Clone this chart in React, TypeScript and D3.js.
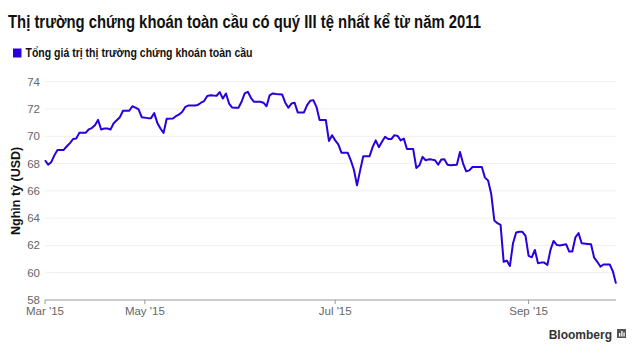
import React from "react";
import * as d3 from "d3";

const TITLE = "Thị trường chứng khoán toàn cầu có quý III tệ nhất kể từ năm 2011";
const LEGEND = "Tổng giá trị thị trường chứng khoán toàn cầu";
const Y_LABEL = "Nghìn tỷ (USD)";
const SOURCE = "Bloomberg";

const dates = [
  "2015-03-30","2015-03-31","2015-04-01","2015-04-02","2015-04-03","2015-04-05","2015-04-06","2015-04-07","2015-04-08","2015-04-09",
  "2015-04-10","2015-04-12","2015-04-13","2015-04-14","2015-04-15","2015-04-16","2015-04-17","2015-04-18","2015-04-19","2015-04-20",
  "2015-04-21","2015-04-23","2015-04-24","2015-04-26","2015-04-27","2015-04-28","2015-04-29","2015-04-30","2015-05-02","2015-05-03",
  "2015-05-04","2015-05-05","2015-05-06","2015-05-07","2015-05-08","2015-05-10","2015-05-11","2015-05-12","2015-05-13","2015-05-14",
  "2015-05-15","2015-05-17","2015-05-18","2015-05-19","2015-05-20","2015-05-21","2015-05-22","2015-05-23","2015-05-24","2015-05-25",
  "2015-05-26","2015-05-27","2015-05-28","2015-05-29","2015-05-30","2015-05-31","2015-06-01","2015-06-02","2015-06-03","2015-06-04",
  "2015-06-05","2015-06-07","2015-06-08","2015-06-09","2015-06-10","2015-06-11","2015-06-12","2015-06-14","2015-06-15","2015-06-16",
  "2015-06-17","2015-06-18","2015-06-19","2015-06-21","2015-06-22","2015-06-23","2015-06-24","2015-06-25","2015-06-26","2015-06-28",
  "2015-06-29","2015-06-30","2015-07-01","2015-07-02","2015-07-03","2015-07-05","2015-07-06","2015-07-07","2015-07-08","2015-07-09",
  "2015-07-10","2015-07-12","2015-07-13","2015-07-14","2015-07-15","2015-07-16","2015-07-17","2015-07-18","2015-07-19","2015-07-20",
  "2015-07-21","2015-07-22","2015-07-23","2015-07-24","2015-07-26","2015-07-27","2015-07-28","2015-07-29","2015-07-30","2015-07-31",
  "2015-08-01","2015-08-02","2015-08-03","2015-08-04","2015-08-05","2015-08-06","2015-08-07","2015-08-09","2015-08-10","2015-08-11",
  "2015-08-12","2015-08-13","2015-08-14","2015-08-17","2015-08-18","2015-08-19","2015-08-20","2015-08-21","2015-08-22","2015-08-23",
  "2015-08-24","2015-08-25","2015-08-26","2015-08-27","2015-08-28","2015-08-29","2015-08-30","2015-08-31","2015-09-01","2015-09-02",
  "2015-09-03","2015-09-04","2015-09-05","2015-09-06","2015-09-07","2015-09-08","2015-09-09","2015-09-10","2015-09-11","2015-09-13",
  "2015-09-14","2015-09-15","2015-09-16","2015-09-17","2015-09-18","2015-09-20","2015-09-21","2015-09-22","2015-09-23","2015-09-24",
  "2015-09-25","2015-09-27","2015-09-28","2015-09-29"
];

const values = [
  68.24,67.92,68.1,68.6,69.0,69.0,69.27,69.5,69.8,69.83,
  70.25,70.25,70.5,70.6,70.8,71.2,70.5,70.57,70.57,70.5,
  70.95,71.4,71.87,71.87,72.2,72.1,71.97,71.4,71.33,71.33,
  71.7,70.98,70.57,70.25,71.28,71.3,71.48,71.6,71.8,72.16,
  72.26,72.26,72.3,72.46,72.58,72.95,73.0,72.98,72.97,73.24,
  72.77,73.14,72.4,72.1,72.09,72.09,72.53,73.14,73.26,72.82,
  72.53,72.53,72.46,72.2,73.0,73.14,73.1,73.07,72.46,72.1,
  72.4,72.46,71.75,71.75,72.28,72.6,72.65,72.16,71.2,71.2,
  69.66,70.08,69.7,69.4,68.8,68.8,68.24,67.55,66.4,67.5,
  68.53,68.53,69.2,69.7,69.2,69.6,69.96,69.8,69.8,70.08,
  70.03,69.7,69.83,69.07,69.07,67.68,67.87,68.49,68.24,68.31,
  68.29,68.24,67.92,68.29,68.31,67.92,67.87,67.92,68.85,68.0,
  67.43,67.5,67.75,67.75,66.97,66.76,65.79,63.83,63.63,63.5,
  60.8,60.89,60.5,62.16,62.95,63.0,63.0,62.7,61.23,61.13,
  61.67,60.7,60.74,60.74,60.57,61.67,62.33,62.04,62.0,62.09,
  61.55,61.55,62.6,62.9,62.16,62.11,62.09,61.1,60.8,60.45,
  60.6,60.6,60.1,59.2
];

const yTicks = [58, 60, 62, 64, 66, 68, 70, 72, 74];
const xTickDates = ["2015-03-30", "2015-05-01", "2015-07-01", "2015-09-01"];
const xTickLabels = ["Mar '15", "May '15", "Jul '15", "Sep '15"];
const domainStart = "2015-03-30";
const domainEnd = "2015-09-29";

const W = 640;
const H = 355;
const M = { left: 45, right: 24, top: 81.7, bottom: 55 };

const parse = d3.utcParse("%Y-%m-%d");

export default function App() {
  const x = d3
    .scaleUtc()
    .domain([parse(domainStart)!, parse(domainEnd)!])
    .range([M.left, W - M.right]);
  const y = d3.scaleLinear().domain([58, 74]).range([H - M.bottom, M.top]);

  const data = dates.map((d, i) => ({ date: parse(d)!, value: values[i] }));
  const line = d3
    .line<{ date: Date; value: number }>()
    .x((d) => x(d.date))
    .y((d) => y(d.value));

  const font = "'Liberation Sans', Arial, Helvetica, sans-serif";
  const lineColor = "#2a00dc";

  return (
    <svg
      width={W}
      height={H}
      style={{ position: "absolute", left: 0, top: 0, display: "block", background: "#fff" }}
      fontFamily={font}
    >
      <text
        x={8}
        y={28}
        fontSize={18}
        fontWeight="bold"
        fill="#111"
        textLength={473}
        lengthAdjust="spacingAndGlyphs"
      >
        {TITLE}
      </text>
      <rect x={13} y={48.5} width={8.5} height={9} fill={lineColor} />
      <text
        x={25.5}
        y={57}
        fontSize={12.5}
        fontWeight="bold"
        fill="#111"
        textLength={227}
        lengthAdjust="spacingAndGlyphs"
      >
        {LEGEND}
      </text>

      {yTicks.map((t) => (
        <g key={t}>
          {t !== 58 && (
            <line x1={M.left} x2={W - M.right} y1={y(t)} y2={y(t)} stroke="#efefef" strokeWidth={1} />
          )}
          <text x={40} y={y(t) + 4} fontSize={11.5} fill="#666" textAnchor="end">
            {t}
          </text>
        </g>
      ))}

      <text
        transform={`translate(20, ${(M.top + H - M.bottom) / 2}) rotate(-90)`}
        fontSize={12.5}
        fontWeight="bold"
        fill="#111"
        textAnchor="middle"
      >
        {Y_LABEL}
      </text>

      <line x1={M.left} x2={W - M.right} y1={y(58)} y2={y(58)} stroke="#999" strokeWidth={1} />
      {xTickDates.map((d, i) => {
        const px = x(parse(d)!);
        return (
          <g key={d}>
            <line x1={px} x2={px} y1={y(58)} y2={y(58) + 4} stroke="#999" />
            <text x={px} y={y(58) + 15} fontSize={11.5} fill="#666" textAnchor="middle">
              {xTickLabels[i]}
            </text>
          </g>
        );
      })}

      <path d={line(data) || ""} fill="none" stroke={lineColor} strokeWidth={2} strokeLinejoin="round" />

      <text x={612} y={338.5} fontSize={12} fontWeight="bold" fill="#333" textAnchor="end">
        {SOURCE}
      </text>
      <rect x={617} y={329} width={9} height={9} fill="#555" />
      <rect x={619} y={333} width={1.3} height={3.5} fill="#fff" />
      <rect x={621.2} y={331} width={1.3} height={5.5} fill="#fff" />
      <rect x={623.4} y={332.5} width={1.3} height={4} fill="#fff" />
    </svg>
  );
}
